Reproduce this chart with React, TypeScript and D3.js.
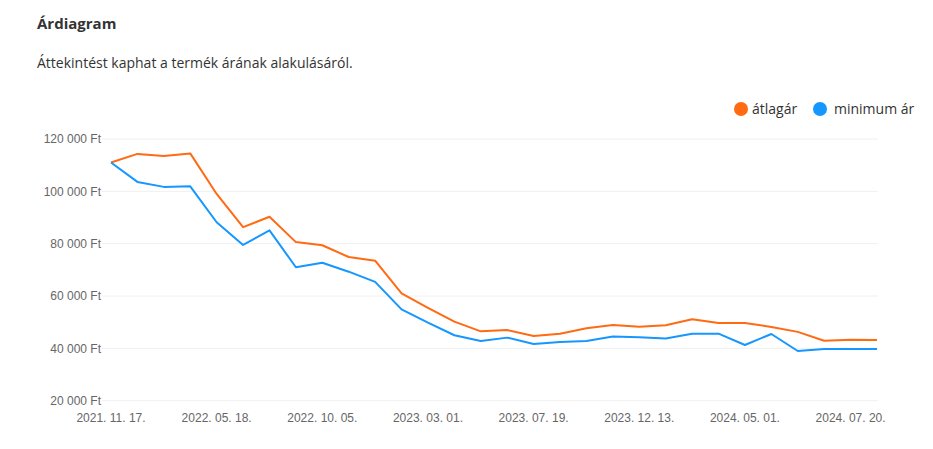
import React from "react";
import { scaleLinear, scalePoint, line } from "d3";

// dates on the x axis (only every 4th is labelled)
const dates = [
  "2021. 11. 17.", "2021. 12. 29.", "2022. 02. 09.", "2022. 03. 30.",
  "2022. 05. 18.", "2022. 06. 22.", "2022. 07. 27.", "2022. 08. 31.",
  "2022. 10. 05.", "2022. 11. 09.", "2022. 12. 14.", "2023. 01. 25.",
  "2023. 03. 01.", "2023. 04. 05.", "2023. 05. 10.", "2023. 06. 14.",
  "2023. 07. 19.", "2023. 08. 30.", "2023. 10. 04.", "2023. 11. 08.",
  "2023. 12. 13.", "2024. 01. 24.", "2024. 02. 28.", "2024. 04. 03.",
  "2024. 05. 01.", "2024. 05. 29.", "2024. 06. 19.", "2024. 07. 06.",
  "2024. 07. 20.", "2024. 08. 03.",
];

const averagePrice = [
  111000, 114300, 113500, 114500, 99000, 86300, 90300, 80600, 79400, 74900,
  73500, 61000, 55500, 50200, 46500, 47000, 44700, 45600, 47700, 48900,
  48300, 48800, 51100, 49700, 49700, 48200, 46300, 42900, 43300, 43200,
];

const minimumPrice = [
  111000, 103600, 101700, 101900, 88200, 79500, 85100, 71000, 72700, 69300,
  65400, 54900, 49800, 45000, 42800, 44100, 41700, 42400, 42800, 44500,
  44200, 43800, 45600, 45600, 41300, 45500, 39000, 39800, 39800, 39800,
];

const yTicks = [20000, 40000, 60000, 80000, 100000, 120000];

const series = [
  { name: "átlagár", values: averagePrice, color: "#ff6a13" },
  { name: "minimum ár", values: minimumPrice, color: "#1597ff" },
];

const fmt = (v: number) =>
  `${Math.floor(v / 1000)} ${String(v % 1000).padStart(3, "0")} Ft`;

export default function App() {
  const W = 933;
  const H = 449;
  const gridLeft = 102;
  const gridRight = 878;

  const x = scalePoint<string>().domain(dates).range([111, 877]);
  const y = scaleLinear().domain([20000, 120000]).range([400.7, 139]);

  const path = line<number>()
    .x((_, i) => x(dates[i])!)
    .y((d) => y(d));

  const openSans = "'Open Sans', 'Noto Sans', sans-serif";
  const axisFont = "'Liberation Sans', Arial, sans-serif";

  return (
    <svg
      width={W}
      height={H}
      style={{ position: "absolute", left: 0, top: 0, background: "#fff" }}
    >
      <text x={37} y={29} fontFamily={openSans} fontWeight={700} fontSize={15} fill="#333">
        Árdiagram
      </text>
      <text x={37} y={68} fontFamily={openSans} fontSize={14} fill="#333">
        Áttekintést kaphat a termék árának alakulásáról.
      </text>

      {/* legend */}
      <g fontFamily={openSans} fontSize={14} fill="#333">
        <circle cx={741} cy={109} r={7} fill={series[0].color} />
        <text x={752} y={114}>{series[0].name}</text>
        <circle cx={820} cy={109} r={7} fill={series[1].color} />
        <text x={834} y={114}>{series[1].name}</text>
      </g>

      {/* grid + y axis */}
      <g fontFamily={axisFont} fontSize={12} fill="#666">
        {yTicks.map((t) => (
          <g key={t}>
            <line x1={gridLeft} x2={gridRight} y1={y(t)} y2={y(t)} stroke="#f0f0f0" />
            <text x={101} y={y(t)} dy="0.35em" textAnchor="end">
              {fmt(t)}
            </text>
          </g>
        ))}
        {dates.map((d, i) =>
          i % 4 === 0 ? (
            <text key={d} x={x(d)} y={422} textAnchor="middle">
              {d}
            </text>
          ) : null
        )}
      </g>

      {series.map((s) => (
        <path
          key={s.name}
          d={path(s.values)!}
          fill="none"
          stroke={s.color}
          strokeWidth={2}
          strokeLinejoin="round"
        />
      ))}
    </svg>
  );
}
